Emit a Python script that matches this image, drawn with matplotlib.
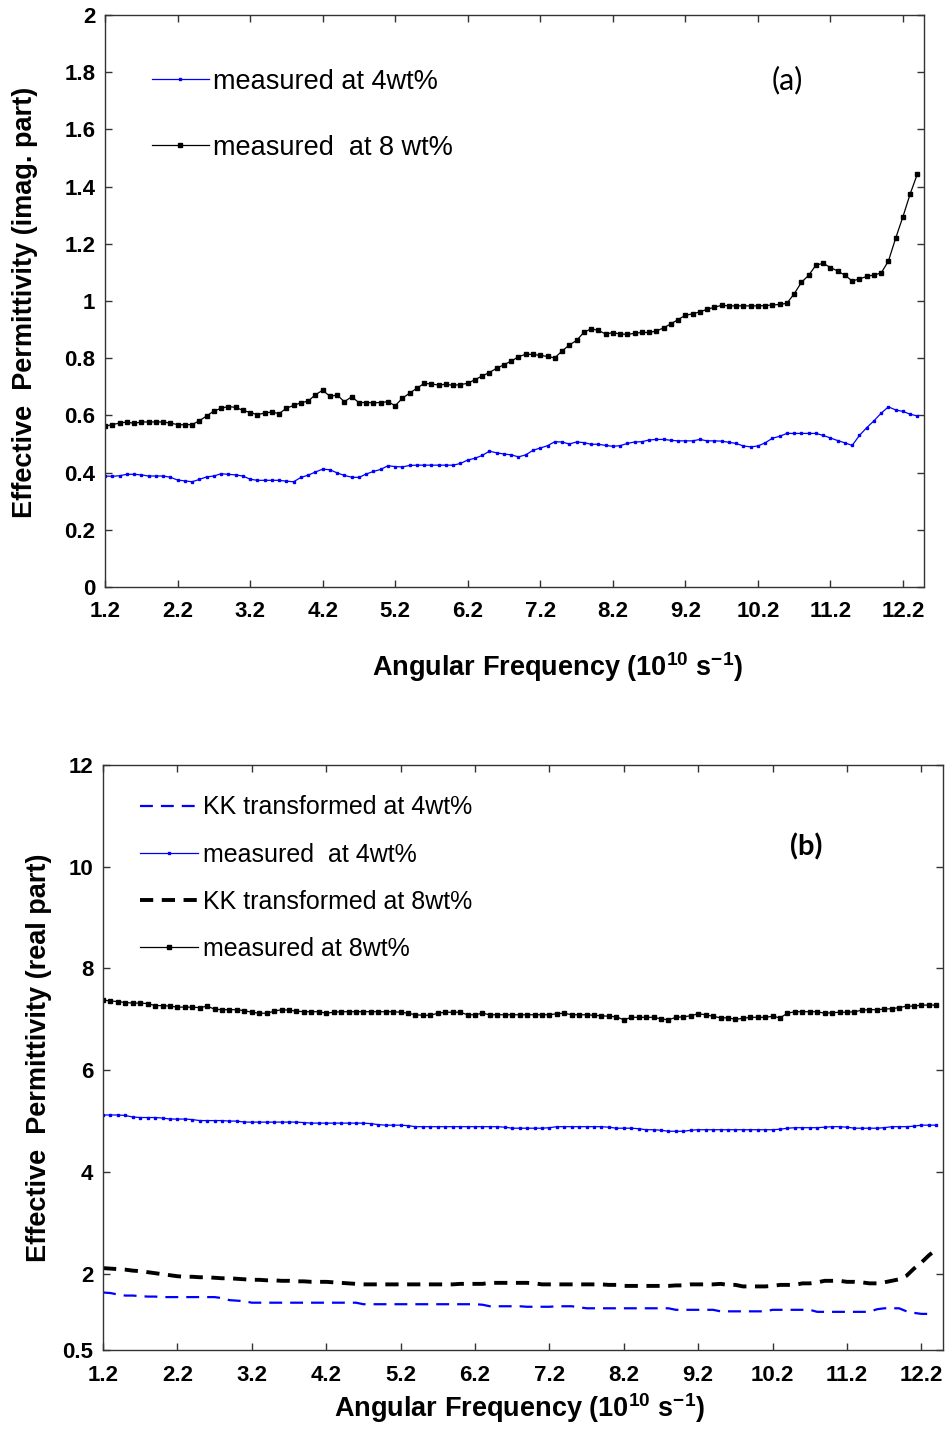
import numpy as np
import matplotlib
matplotlib.use("Agg")
import matplotlib.pyplot as plt

# ---------------- data ----------------
# angular frequency grid (10^10 s^-1)
freq = [round(1.2 + 0.1 * i, 1) for i in range(113)]          # 1.2 ... 12.4
freq_kk4 = freq[:112]                                            # 1.2 ... 12.3

# (a) imaginary part
imag_4wt = [0.388, 0.387, 0.389, 0.394, 0.394, 0.392, 0.388, 0.388, 0.388, 0.384,
            0.374, 0.371, 0.368, 0.376, 0.385, 0.388, 0.396, 0.394, 0.392, 0.388,
            0.377, 0.373, 0.373, 0.373, 0.373, 0.370, 0.368, 0.383, 0.391, 0.402,
            0.412, 0.410, 0.399, 0.390, 0.384, 0.383, 0.395, 0.404, 0.411, 0.424,
            0.421, 0.420, 0.425, 0.426, 0.426, 0.426, 0.426, 0.426, 0.426, 0.432,
            0.444, 0.450, 0.460, 0.475, 0.469, 0.465, 0.462, 0.455, 0.462, 0.478,
            0.486, 0.494, 0.508, 0.507, 0.500, 0.507, 0.505, 0.499, 0.499, 0.495,
            0.492, 0.494, 0.502, 0.507, 0.508, 0.514, 0.516, 0.516, 0.513, 0.511,
            0.511, 0.511, 0.516, 0.511, 0.511, 0.510, 0.506, 0.502, 0.493, 0.490,
            0.493, 0.504, 0.520, 0.527, 0.537, 0.537, 0.537, 0.537, 0.537, 0.530,
            0.521, 0.512, 0.504, 0.495, 0.530, 0.557, 0.581, 0.608, 0.630, 0.619,
            0.614, 0.604, 0.598]

imag_8wt = [0.562, 0.568, 0.573, 0.577, 0.572, 0.577, 0.577, 0.577, 0.577, 0.573,
            0.568, 0.567, 0.568, 0.581, 0.598, 0.615, 0.625, 0.631, 0.628, 0.618,
            0.610, 0.603, 0.608, 0.612, 0.606, 0.625, 0.635, 0.644, 0.650, 0.672,
            0.688, 0.667, 0.671, 0.648, 0.665, 0.645, 0.645, 0.644, 0.645, 0.648,
            0.634, 0.660, 0.678, 0.695, 0.712, 0.710, 0.706, 0.709, 0.705, 0.708,
            0.712, 0.725, 0.738, 0.750, 0.765, 0.777, 0.790, 0.805, 0.814, 0.813,
            0.810, 0.806, 0.801, 0.825, 0.846, 0.862, 0.890, 0.903, 0.897, 0.885,
            0.889, 0.885, 0.883, 0.887, 0.890, 0.890, 0.895, 0.906, 0.920, 0.935,
            0.950, 0.955, 0.962, 0.971, 0.978, 0.985, 0.983, 0.983, 0.983, 0.983,
            0.983, 0.984, 0.986, 0.988, 0.992, 1.025, 1.065, 1.090, 1.125, 1.132,
            1.117, 1.105, 1.090, 1.070, 1.077, 1.086, 1.091, 1.098, 1.140, 1.220,
            1.295, 1.375, 1.445]

# (b) real part
real_meas_4wt = [5.12, 5.12, 5.12, 5.11, 5.08, 5.07, 5.07, 5.07, 5.06, 5.04,
                 5.04, 5.04, 5.03, 5.01, 5.01, 5.01, 5.01, 5.00, 5.00, 4.98,
                 4.98, 4.98, 4.98, 4.98, 4.98, 4.98, 4.98, 4.97, 4.96, 4.96,
                 4.96, 4.96, 4.96, 4.96, 4.96, 4.96, 4.95, 4.93, 4.92, 4.92,
                 4.92, 4.91, 4.89, 4.89, 4.89, 4.89, 4.89, 4.89, 4.89, 4.89,
                 4.89, 4.89, 4.89, 4.89, 4.88, 4.86, 4.86, 4.86, 4.86, 4.86,
                 4.87, 4.89, 4.89, 4.89, 4.89, 4.89, 4.89, 4.89, 4.88, 4.86,
                 4.86, 4.86, 4.85, 4.83, 4.83, 4.82, 4.80, 4.80, 4.80, 4.82,
                 4.83, 4.83, 4.83, 4.83, 4.83, 4.83, 4.83, 4.83, 4.83, 4.83,
                 4.83, 4.84, 4.86, 4.87, 4.87, 4.87, 4.87, 4.88, 4.89, 4.89,
                 4.88, 4.86, 4.86, 4.86, 4.86, 4.87, 4.89, 4.89, 4.89, 4.90,
                 4.92, 4.92, 4.92]

real_meas_8wt = [7.38, 7.36, 7.35, 7.33, 7.32, 7.32, 7.31, 7.27, 7.27, 7.26,
                 7.24, 7.24, 7.24, 7.23, 7.26, 7.20, 7.19, 7.19, 7.19, 7.17,
                 7.14, 7.12, 7.12, 7.16, 7.19, 7.18, 7.16, 7.15, 7.15, 7.15,
                 7.12, 7.14, 7.15, 7.15, 7.15, 7.15, 7.15, 7.15, 7.15, 7.15,
                 7.14, 7.12, 7.09, 7.08, 7.08, 7.12, 7.14, 7.14, 7.14, 7.09,
                 7.09, 7.12, 7.09, 7.09, 7.09, 7.09, 7.09, 7.09, 7.09, 7.09,
                 7.09, 7.11, 7.12, 7.09, 7.09, 7.09, 7.08, 7.07, 7.06, 7.05,
                 6.99, 7.04, 7.04, 7.04, 7.04, 7.01, 6.99, 7.04, 7.05, 7.07,
                 7.11, 7.09, 7.06, 7.03, 7.03, 7.00, 7.02, 7.04, 7.04, 7.04,
                 7.06, 7.03, 7.12, 7.15, 7.15, 7.15, 7.15, 7.12, 7.13, 7.14,
                 7.14, 7.15, 7.18, 7.19, 7.19, 7.20, 7.21, 7.23, 7.26, 7.26,
                 7.28, 7.28, 7.28]

real_kk_4wt = [1.63, 1.62, 1.59, 1.57, 1.57, 1.56, 1.55, 1.55, 1.54, 1.54,
               1.54, 1.54, 1.54, 1.54, 1.54, 1.54, 1.52, 1.48, 1.47, 1.46,
               1.43, 1.43, 1.43, 1.43, 1.43, 1.43, 1.43, 1.43, 1.43, 1.43,
               1.43, 1.43, 1.43, 1.43, 1.43, 1.40, 1.40, 1.40, 1.40, 1.40,
               1.40, 1.40, 1.40, 1.40, 1.40, 1.40, 1.40, 1.40, 1.40, 1.40,
               1.40, 1.39, 1.36, 1.36, 1.36, 1.36, 1.36, 1.35, 1.35, 1.35,
               1.35, 1.36, 1.36, 1.36, 1.34, 1.32, 1.32, 1.32, 1.32, 1.32,
               1.32, 1.32, 1.32, 1.32, 1.32, 1.32, 1.32, 1.29, 1.29, 1.29,
               1.29, 1.29, 1.29, 1.26, 1.26, 1.26, 1.26, 1.26, 1.26, 1.26,
               1.29, 1.29, 1.29, 1.29, 1.29, 1.29, 1.25, 1.25, 1.25, 1.25,
               1.25, 1.25, 1.25, 1.25, 1.30, 1.32, 1.32, 1.32, 1.26, 1.23,
               1.21, 1.21]

real_kk_8wt = [2.11, 2.10, 2.09, 2.08, 2.06, 2.05, 2.03, 2.01, 1.99, 1.97,
               1.95, 1.94, 1.94, 1.93, 1.93, 1.92, 1.91, 1.91, 1.90, 1.89,
               1.88, 1.88, 1.87, 1.87, 1.86, 1.86, 1.85, 1.85, 1.84, 1.84,
               1.84, 1.83, 1.82, 1.81, 1.80, 1.79, 1.79, 1.79, 1.79, 1.79,
               1.79, 1.79, 1.79, 1.79, 1.79, 1.79, 1.79, 1.79, 1.80, 1.80,
               1.80, 1.80, 1.82, 1.82, 1.82, 1.82, 1.82, 1.82, 1.81, 1.79,
               1.79, 1.79, 1.79, 1.79, 1.79, 1.79, 1.79, 1.79, 1.78, 1.78,
               1.76, 1.76, 1.76, 1.76, 1.76, 1.76, 1.76, 1.77, 1.77, 1.79,
               1.79, 1.79, 1.79, 1.80, 1.78, 1.78, 1.75, 1.75, 1.75, 1.75,
               1.76, 1.78, 1.78, 1.78, 1.81, 1.81, 1.83, 1.86, 1.86, 1.86,
               1.84, 1.84, 1.83, 1.81, 1.81, 1.83, 1.86, 1.89, 1.96, 2.10,
               2.22, 2.36, 2.48]

xticks = [1.2, 2.2, 3.2, 4.2, 5.2, 6.2, 7.2, 8.2, 9.2, 10.2, 11.2, 12.2]
xtick_labels = ["1.2", "2.2", "3.2", "4.2", "5.2", "6.2", "7.2", "8.2", "9.2", "10.2", "11.2", "12.2"]
yticks_a = [0, 0.2, 0.4, 0.6, 0.8, 1.0, 1.2, 1.4, 1.6, 1.8, 2.0]
ytick_labels_a = ["0", "0.2", "0.4", "0.6", "0.8", "1", "1.2", "1.4", "1.6", "1.8", "2"]
yticks_b = [0.5, 2, 4, 6, 8, 10, 12]
ytick_labels_b = ["0.5", "2", "4", "6", "8", "10", "12"]

labels_a = ["measured at 4wt%", "measured  at 8 wt%"]
labels_b = ["KK transformed at 4wt%", "measured  at 4wt%",
            "KK transformed at 8wt%", "measured at 8wt%"]

# ---------------- figure ----------------
plt.rcParams['font.family'] = ['Liberation Sans', 'DejaVu Sans']
plt.rcParams['mathtext.fontset'] = 'custom'
plt.rcParams['mathtext.rm'] = 'Liberation Sans:bold'
plt.rcParams['mathtext.bf'] = 'Liberation Sans:bold'
BLUE = '#0000ff'
fig = plt.figure(figsize=(9.46, 14.31), dpi=100)

W, H = 946.0, 1431.0
def axes_px(l, t, r, b):
    return [l / W, 1 - b / H, (r - l) / W, (b - t) / H]

ax1 = fig.add_axes(axes_px(105, 15, 924, 587))
ax2 = fig.add_axes(axes_px(103, 765, 943, 1350))

tick_font = dict(fontsize=16, fontweight='bold')
xlab_font = dict(fontsize=19.5, fontweight='bold')
ylab_font = dict(fontsize=19.5, fontweight='bold')

# ---- (a)
ax1.plot(freq, imag_4wt, color=BLUE, lw=0.9, marker='s', ms=1.8, label=labels_a[0])
ax1.plot(freq, imag_8wt, color='black', lw=0.9, marker='s', ms=2.4, label=labels_a[1])
ax1.set_xlim(1.2, 12.49)
ax1.set_ylim(0, 2)

# ---- (b)
ax2.plot(freq_kk4, real_kk_4wt, color=BLUE, lw=1.6, dashes=(5.8, 3.6), label=labels_b[0])
ax2.plot(freq, real_meas_4wt, color=BLUE, lw=0.9, marker='s', ms=1.8, label=labels_b[1])
ax2.plot(freq, real_kk_8wt, color='black', lw=2.8, dashes=(3.4, 2.2), label=labels_b[2])
ax2.plot(freq, real_meas_8wt, color='black', lw=0.9, marker='s', ms=2.4, label=labels_b[3])
ax2.set_xlim(1.2, 12.49)
ax2.set_ylim(0.5, 12)

for ax, yt, ytl in ((ax1, yticks_a, ytick_labels_a), (ax2, yticks_b, ytick_labels_b)):
    ax.set_xticks(xticks)
    ax.set_xticklabels(xtick_labels, **tick_font)
    ax.set_yticks(yt)
    ax.set_yticklabels(ytl, **tick_font)
    ax.tick_params(direction='in', length=5, width=1, top=True, right=True,
                   color='#333333')
    ax.tick_params(axis='y', pad=7)
    for s in ax.spines.values():
        s.set_linewidth(1.0)
        s.set_color('#333333')

ax1.tick_params(axis='x', pad=10)
ax2.tick_params(axis='x', pad=11)

xlabel = 'Angular Frequency (10$^{\\mathbf{10}}$ s$^{\\mathbf{-1}}$)'
ax1.set_xlabel(xlabel, **xlab_font)
ax2.set_xlabel(xlabel, **xlab_font)
ax1.xaxis.set_label_coords(0.553, -0.110)
ax2.xaxis.set_label_coords(0.496, -0.070)
ax1.set_ylabel('Effective  Permittivity (imag. part)', **ylab_font)
ax2.set_ylabel('Effective  Permittivity (real part)', **ylab_font)
ax1.yaxis.set_label_coords(-0.082, 0.498)
ax2.yaxis.set_label_coords(-0.061, 0.499)

leg1 = ax1.legend(loc='upper left', bbox_to_anchor=(0.044, 0.925), frameon=False,
                  fontsize=19.5, handlelength=2.1, handletextpad=0.15,
                  labelspacing=1.48, borderaxespad=0, numpoints=1)
leg2 = ax2.legend(loc='upper left', bbox_to_anchor=(0.032, 0.965), frameon=False,
                  fontsize=18, handlelength=2.32, handletextpad=0.2,
                  labelspacing=0.93, borderaxespad=0, numpoints=1)

ax1.text(0.833, 0.886, '(a)', transform=ax1.transAxes, ha='center', va='center',
         fontsize=22, family='Lato')
ax2.text(0.837, 0.860, '(b)', transform=ax2.transAxes, ha='center', va='center',
         fontsize=21, family='Lato', fontweight='bold')

fig.savefig('out.png', dpi=100)
